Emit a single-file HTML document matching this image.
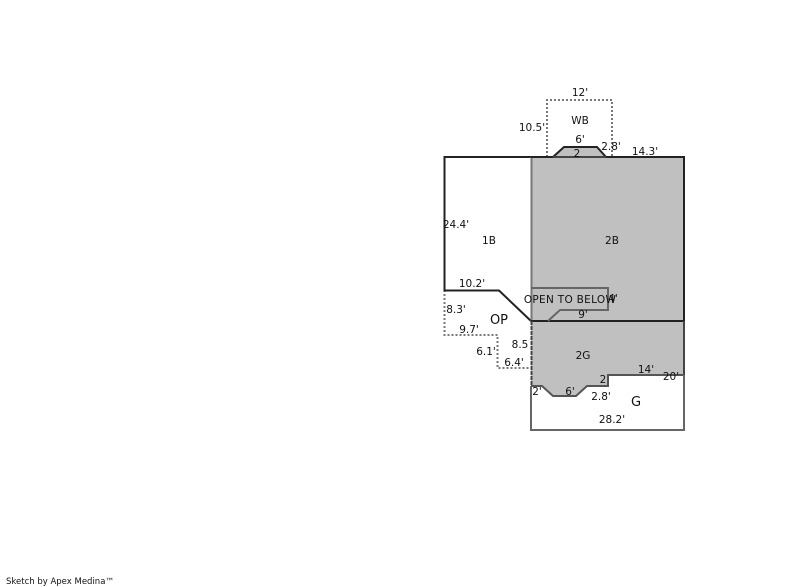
<!DOCTYPE html>
<html><head><meta charset="utf-8"><style>
html,body{margin:0;padding:0;background:#fff}
svg{display:block}
text{font-family:"DejaVu Sans","Liberation Sans",sans-serif;font-size:10.5px;fill:#111;text-anchor:middle}
</style></head><body>
<svg width="800" height="587" viewBox="0 0 800 587" xmlns="http://www.w3.org/2000/svg">
<rect width="800" height="587" fill="#fff"/>
<!-- fills -->
<polygon points="531,157 553,157 564,147 597,147 606,157 684,157 684,375 608,375 608,386 587,386 576,396 553,396 542,386 531,386" fill="#c0c0c0"/>
<!-- WB dotted -->
<path d="M547,157V100H612V157" fill="none" stroke="#777" stroke-width="2" stroke-dasharray="2 2"/>
<!-- OP dotted -->
<path d="M444.500,290V335H497.500V368H531" fill="none" stroke="#777" stroke-width="2" stroke-dasharray="2 2"/>
<!-- 1B -->
<path d="M531,157H444.500V290.500H499L531,321" fill="none" stroke="#222" stroke-width="2"/>
<!-- 2B -->
<path d="M531.500,157V321" stroke="#777" stroke-width="2" fill="none"/>
<path d="M531,157H553L564,147H597L606,157H684V321H531" fill="none" stroke="#222" stroke-width="2"/>
<path d="M553,157H606" stroke="#444" stroke-width="2" fill="none"/>
<!-- open to below -->
<path d="M531,288H608V310H560L548,321" fill="none" stroke="#666" stroke-width="2"/>
<!-- 2G -->
<path d="M531.500,321V386" stroke="#444" stroke-width="2" stroke-dasharray="4 1" fill="none"/>
<path d="M684,321V375" stroke="#444" stroke-width="2" fill="none"/>
<path d="M531,386H542L553,396H576L587,386H608V375H684" fill="none" stroke="#555" stroke-width="2"/>
<!-- G -->
<path d="M531,386V430H684V375" fill="none" stroke="#666" stroke-width="2"/>
<!-- labels -->
<text x="580" y="96">12'</text>
<text x="580" y="124">WB</text>
<text x="532" y="131">10.5'</text>
<text x="580" y="143">6'</text>
<text x="577" y="157">2</text>
<text x="611" y="150">2.8'</text>
<text x="645" y="155">14.3'</text>
<text x="456" y="228">24.4'</text>
<text x="489" y="244">1B</text>
<text x="612" y="244">2B</text>
<text x="472" y="287">10.2'</text>
<text x="570" y="303" style="letter-spacing:.3px">OPEN TO BELOW</text>
<text x="613" y="302">4'</text>
<text x="583" y="318">9'</text>
<text x="456" y="313">8.3'</text>
<text x="469" y="333">9.7'</text>
<text x="499" y="324" style="font-size:13px">OP</text>
<text x="486" y="355">6.1'</text>
<text x="520" y="348">8.5</text>
<text x="514" y="366">6.4'</text>
<text x="583" y="359">2G</text>
<text x="646" y="373">14'</text>
<text x="671" y="380">20'</text>
<text x="603" y="383">2</text>
<text x="537" y="395">2'</text>
<text x="570" y="395">6'</text>
<text x="601" y="400">2.8'</text>
<text x="636" y="406" style="font-size:13px">G</text>
<text x="612" y="423">28.2'</text>
<text x="6" y="584" style="text-anchor:start;font-size:8.500px">Sketch by Apex Medina™</text>
</svg>
</body></html>
